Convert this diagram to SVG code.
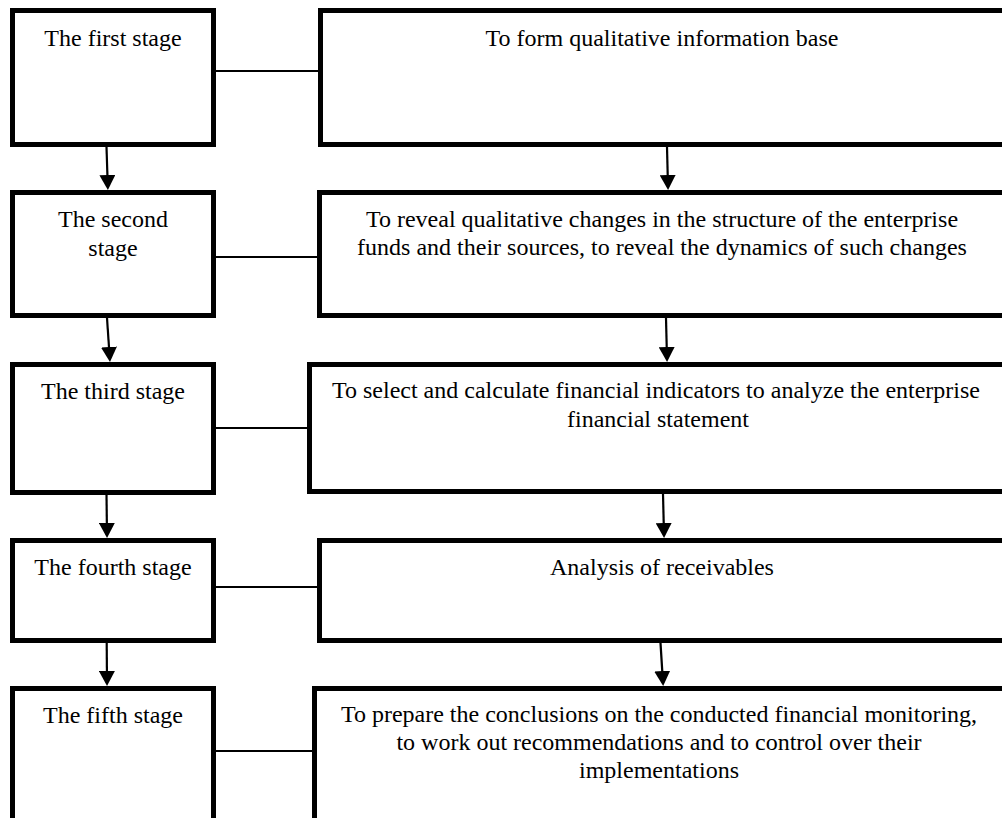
<svg xmlns="http://www.w3.org/2000/svg" width="1002" height="818" viewBox="0 0 1002 818">
<style>
.box{fill:#fff;stroke:#000;stroke-width:5}
.t{font-family:"Liberation Serif","Times New Roman",serif;font-size:24px;fill:#000;text-anchor:middle}
.link{stroke:#000;stroke-width:2;fill:none}
.arr{stroke:#000;stroke-width:2.2;fill:none;marker-end:url(#ah)}
</style>
<defs>
<marker id="ah" viewBox="0 0 15 16" markerWidth="15" markerHeight="16" refX="12" refY="8" orient="auto" markerUnits="userSpaceOnUse">
<path d="M0,0 L15,8 L0,16 Z" fill="#000"/>
</marker>
</defs>
<rect width="1002" height="818" fill="#fff"/>
<g id="connectors">
<line class="link" x1="216" y1="71" x2="318" y2="71"/>
<line class="link" x1="216" y1="257" x2="322" y2="257"/>
<line class="link" x1="216" y1="428" x2="307" y2="428"/>
<line class="link" x1="216" y1="587" x2="317" y2="587"/>
<line class="link" x1="216" y1="751" x2="312" y2="751"/>
<line class="arr" x1="106.5" y1="147" x2="107.8" y2="187"/>
<line class="arr" x1="107" y1="318" x2="109.8" y2="359"/>
<line class="arr" x1="106.5" y1="495" x2="107" y2="535"/>
<line class="arr" x1="106.7" y1="643" x2="107" y2="683"/>
<line class="arr" x1="667" y1="147" x2="668" y2="187"/>
<line class="arr" x1="666" y1="318" x2="667" y2="359"/>
<line class="arr" x1="663" y1="494" x2="664" y2="535"/>
<line class="arr" x1="660.5" y1="643" x2="663" y2="683"/>
</g>
<g id="stage1">
<rect class="box" x="12.5" y="10.5" width="201" height="134"/>
<text class="t" x="113" y="46">The first stage</text>
</g>
<g id="task1">
<rect class="box" x="320.5" y="10.5" width="700" height="134"/>
<text class="t" x="662" y="46">To form qualitative information base</text>
</g>
<g id="stage2">
<rect class="box" x="12.5" y="192.5" width="201" height="123"/>
<text class="t" x="113" y="227">The second</text>
<text class="t" x="113" y="256">stage</text>
</g>
<g id="task2">
<rect class="box" x="319.5" y="192.5" width="700" height="123"/>
<text class="t" x="662" y="227">To reveal qualitative changes in the structure of the enterprise</text>
<text class="t" x="662" y="255">funds and their sources, to reveal the dynamics of such changes</text>
</g>
<g id="stage3">
<rect class="box" x="12.5" y="364.5" width="201" height="128"/>
<text class="t" x="113" y="399">The third stage</text>
</g>
<g id="task3">
<rect class="box" x="309.5" y="364.5" width="710" height="127"/>
<text class="t" x="656" y="398">To select and calculate financial indicators to analyze the enterprise</text>
<text class="t" x="658" y="427">financial statement</text>
</g>
<g id="stage4">
<rect class="box" x="12.5" y="540.5" width="201" height="100"/>
<text class="t" x="113" y="575">The fourth stage</text>
</g>
<g id="task4">
<rect class="box" x="319.5" y="540.5" width="700" height="100"/>
<text class="t" x="662" y="575">Analysis of receivables</text>
</g>
<g id="stage5">
<rect class="box" x="12.5" y="688.5" width="201" height="200"/>
<text class="t" x="113" y="723">The fifth stage</text>
</g>
<g id="task5">
<rect class="box" x="314.5" y="688.5" width="705" height="200"/>
<text class="t" x="659" y="722">To prepare the conclusions on the conducted financial monitoring,</text>
<text class="t" x="659" y="750">to work out recommendations and to control over their</text>
<text class="t" x="659" y="778">implementations</text>
</g>
</svg>
